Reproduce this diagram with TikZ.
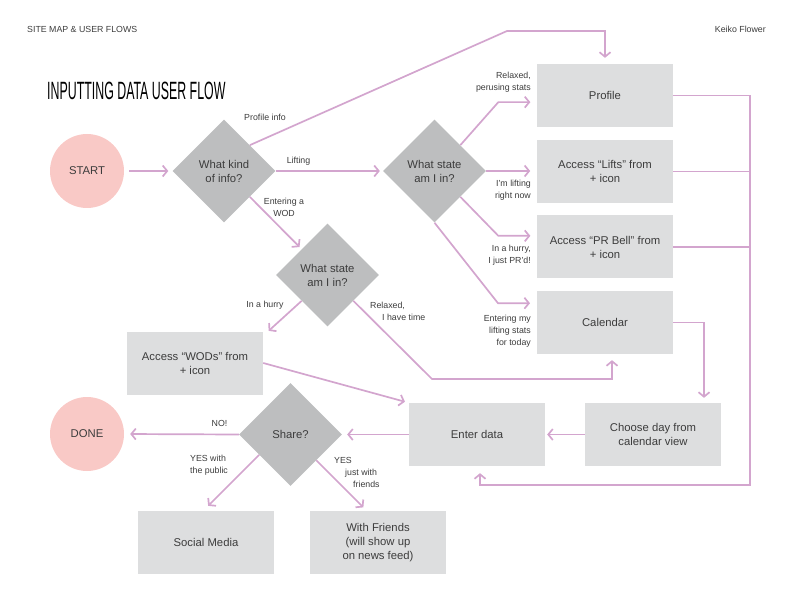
\documentclass[tikz,border=0pt]{standalone}
\usepackage{fontspec}
\setmainfont{Liberation Sans}
\newfontfamily\titlefont[FakeStretch=0.495]{Liberation Sans}
\usetikzlibrary{positioning,arrows.meta,shapes.geometric}
\definecolor{flowpink}{HTML}{D3A5CE}
\definecolor{endpink}{HTML}{F9C9C6}
\definecolor{askgray}{HTML}{BDBEBF}
\definecolor{boxgray}{HTML}{DDDEDF}
\definecolor{inkgray}{HTML}{3C3C3C}

\begin{document}
\begin{tikzpicture}[x=1pt, y=-1pt, font=\fontsize{11.3}{14}\selectfont, text=inkgray,
  >={Straight Barb[length=4.5pt, width=11pt]},
  box/.style={fill=boxgray, minimum width=136pt, minimum height=63pt, align=center, inner sep=2pt},
  ask/.style={diamond, fill=askgray, minimum width=103pt, minimum height=103pt, inner sep=0pt, align=center},
  ends/.style={circle, fill=endpink, minimum size=74pt, inner sep=0pt},
  lab/.style={font=\fontsize{8.8}{12}\selectfont, inner sep=0pt},
  rail/.style={draw=flowpink, line width=1.7pt},
  flow/.style={rail, ->}]
\useasboundingbox (0,0) rectangle (792,612);

% header
\node[lab, anchor=west] (head) at (27,29) {SITE MAP \& USER FLOWS};
\node[lab, anchor=east] (who) at (766,29) {Keiko Flower};
\node[anchor=west, inner sep=0pt, text=black, font=\titlefont\fontsize{25}{25}\selectfont] (title) at (47,91) {INPUTTING DATA USER FLOW};

% shapes
\node[ends] (start) at (87,171) {START};
\node[ends] (done) at (87,434) {DONE};
\node[ask] (kind) at (224,171) {What kind\\of info?};
\node[ask] (stateL) at (434.5,171) {What state\\am I in?};
\node[ask] (stateW) at (327.5,275) {What state\\am I in?};
\node[ask] (share) at (290.5,434.5) {Share?};
\node[box] (profile) at (605,95.5) {Profile};
\node[box] (lifts) at (605,171.5) {Access “Lifts” from\\+ icon};
\node[box] (prbell) at (605,247) {Access “PR Bell” from\\+ icon};
\node[box] (calendar) at (605,322.5) {Calendar};
\node[box] (wods) at (195,363) {Access “WODs” from\\+ icon};
\node[box] (enter) at (477,434.5) {Enter data};
\node[box] (chooseday) at (653,434.5) {Choose day from\\calendar view};
\node[box] (social) at (206,542.5) {Social Media};
\node[box] (friends) at (378,542.5) {With Friends\\(will show up\\on news feed)};

\coordinate (pbend) at (507,31);
\coordinate (railtop) at (750,95.5);
\coordinate (railbot) at (750,485);
\coordinate (wbend) at (432,379);

% connectors
\draw[flow, shorten <=5pt, shorten >=4pt] (start) -- (kind);
\draw[flow, shorten >=6pt] (kind.north east) -- (pbend) -| (profile.north);
\draw[flow, shorten >=3pt] (kind.east) -- (stateL.west);
\draw[flow, shorten >=3pt] (kind.south east) -- (stateW.north west);
\draw[flow] (stateL.north east) -- ++(38,-43) -- ++(32,0);
\draw[flow] (stateL.east) -- ++(44,0);
\draw[flow] (stateL.south east) -- ++(38,39) -- ++(32,0);
\draw[flow] (stateL.south) -- ++(63.5,80.5) -- ++(32,0);
\draw[rail] (lifts.east) -- (lifts.east -| railtop);
\draw[rail] (prbell.east) -- (prbell.east -| railtop);
\draw[flow, shorten >=7pt] (profile.east) -- (railtop) -- (railbot) -| ([xshift=3pt]enter.south);
\draw[flow, shorten >=5pt] (calendar.east) -| ([xshift=51pt]chooseday.north);
\draw[flow, shorten >=2pt] (chooseday.west) -- (enter.east);
\draw[flow, shorten >=5pt] (enter.west) -- (share.east);
\draw[flow, shorten >=6pt] (share.west) -- (done.east);
\draw[flow] (share.213) -- ++(-51,51);
\draw[flow] (share.south east) -- ++(47,47);
\draw[flow] (stateW.south west) -- ++(-33,30);
\draw[flow, shorten >=6pt] (stateW.south east) -- (wbend) -| ([xshift=7pt]calendar.south);
\draw[flow, shorten >=4pt] (wods.east) -- (enter.north west);

% labels
\node[lab] (lprof) at (265,117) {Profile info};
\node[lab] (llift) at (298.5,161) {Lifting};
\node[lab, align=center] (lwod) at (284,207.5) {Entering a\\WOD};
\node[lab, anchor=east, align=right] (lrelax) at (531,82.5) {Relaxed,\\perusing stats};
\node[lab, anchor=east, align=right] (lnow) at (531,190.5) {I’m lifting\\right now};
\node[lab, anchor=east, align=right] (lpr) at (531,255) {In a hurry,\\I just PR’d!};
\node[lab, anchor=east, align=right] (ltoday) at (531,331) {Entering my\\lifting stats\\for today};
\node[lab] (lhurry) at (265,305) {In a hurry};
\node[lab, anchor=west, align=left] (ltime) at (370,311) {Relaxed,\\\hspace*{12pt}I have time};
\node[lab] (lno) at (219.5,423) {NO!};
\node[lab, anchor=west, align=left] (lpublic) at (190,465) {YES with\\the public};
\node[lab, anchor=west, align=left] (lfriend) at (334,472) {YES\\\hspace*{11pt}just with\\\hspace*{19pt}friends};
\end{tikzpicture}
\end{document}
